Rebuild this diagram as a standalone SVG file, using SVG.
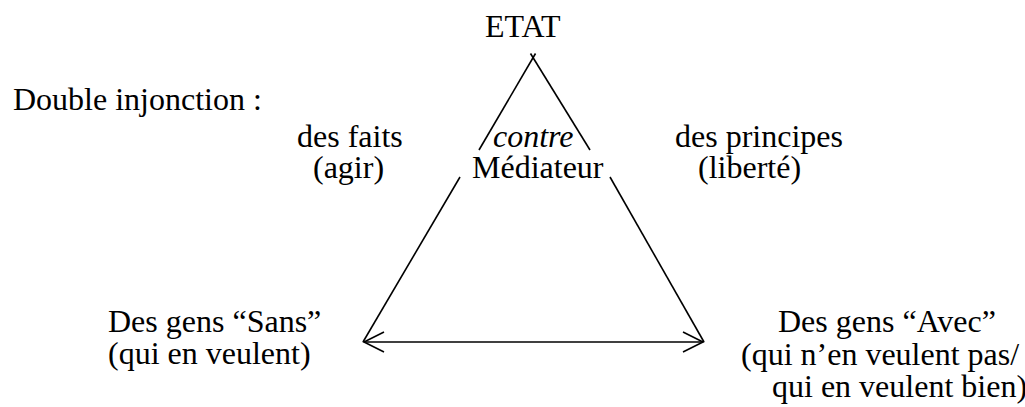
<svg xmlns="http://www.w3.org/2000/svg" width="1025" height="407" viewBox="0 0 1025 407">
<style>
  text { font-family: "Liberation Serif", "Times New Roman", serif; font-size: 32px; fill: #000; }
  .it { font-style: italic; }
  .ln { stroke: #000; stroke-width: 1.6; fill: none; }
</style>
<defs>
  <marker id="arr" markerUnits="userSpaceOnUse" markerWidth="30" markerHeight="30" viewBox="-25 -15 30 30" refX="0" refY="0" orient="auto-start-reverse">
    <path d="M-20,-10 L0,0 L-20,10" fill="none" stroke="#000" stroke-width="1.6"/>
  </marker>
</defs>
<rect width="1025" height="407" fill="#fff"/>
<g id="connectors">
  <line class="ln" x1="479" y1="150" x2="535.5" y2="53.5"/>
  <line class="ln" x1="590" y1="150" x2="530.5" y2="53.5"/>
  <line class="ln" x1="460" y1="177" x2="363" y2="342"/>
  <line class="ln" x1="610" y1="177" x2="704" y2="342"/>
  <line class="ln" x1="364" y1="342" x2="703" y2="342" marker-start="url(#arr)" marker-end="url(#arr)"/>
</g>
<g id="etat"><text x="485" y="37">ETAT</text></g>
<g id="double-injonction"><text x="13" y="110">Double injonction :</text></g>
<g id="faits">
  <text x="297" y="147">des faits</text>
  <text x="313" y="178">(agir)</text>
</g>
<g id="mediateur">
  <text class="it" x="493" y="147">contre</text>
  <text x="472" y="178">Médiateur</text>
</g>
<g id="principes">
  <text x="675" y="147">des principes</text>
  <text x="698" y="178">(liberté)</text>
</g>
<g id="sans">
  <text x="108" y="332">Des gens “Sans”</text>
  <text x="108" y="364">(qui en veulent)</text>
</g>
<g id="avec">
  <text x="778" y="332">Des gens “Avec”</text>
  <text x="741" y="365">(qui n’en veulent pas/</text>
  <text x="772" y="397">qui en veulent bien)</text>
</g>
</svg>
